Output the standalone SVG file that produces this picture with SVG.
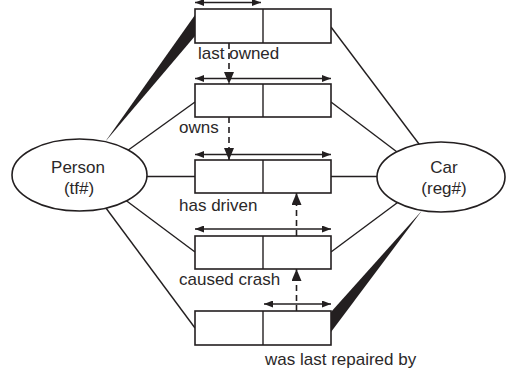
<svg xmlns="http://www.w3.org/2000/svg" width="507" height="372" viewBox="0 0 507 372">
  <style>
    .box { fill: #fff; stroke: #231f20; stroke-width: 1.6; }
    .div { stroke: #231f20; stroke-width: 1.4; }
    .ent { fill: #fff; stroke: #231f20; stroke-width: 1.6; }
    .link { stroke: #231f20; stroke-width: 1.4; fill: none; }
    .wedge { fill: #231f20; stroke: none; }
    .span { stroke: #231f20; stroke-width: 1.3; fill: none; marker-start: url(#tip2); marker-end: url(#tip2); }
    .sub { stroke: #231f20; stroke-width: 1.6; fill: none; stroke-dasharray: 6 4; marker-end: url(#tip); }
    text { font-family: "Liberation Sans", Arial, sans-serif; font-size: 17px; fill: #2b2829; }
    .mid { text-anchor: middle; }
  </style>
  <defs>
    <marker id="tip" markerUnits="userSpaceOnUse" markerWidth="12" markerHeight="10" refX="12" refY="5" orient="auto">
      <path d="M0,0 L12,5 L0,10 z" fill="#231f20" stroke="none"/>
    </marker>
    <marker id="tip2" markerUnits="userSpaceOnUse" markerWidth="9" markerHeight="7" refX="9" refY="3.5" orient="auto-start-reverse">
      <path d="M0,0 L9,3.5 L0,7 z" fill="#231f20" stroke="none"/>
    </marker>
  </defs>

  <!-- connectors: role links, uniqueness bars and subset constraints -->
  <g id="connectors">
    <polygon class="wedge" points="105,142 195,15 195,36"/>
    <line class="link" x1="120" y1="156" x2="195" y2="102"/>
    <line class="link" x1="140" y1="176.5" x2="195" y2="176.5"/>
    <line class="link" x1="120" y1="196" x2="195" y2="252"/>
    <line class="link" x1="100" y1="200" x2="195" y2="328"/>

    <line class="link" x1="331" y1="27" x2="425" y2="152"/>
    <line class="link" x1="331" y1="102" x2="405" y2="158"/>
    <line class="link" x1="331" y1="176.5" x2="385" y2="176.5"/>
    <line class="link" x1="331" y1="252" x2="405" y2="197"/>
    <polygon class="wedge" points="422,210.4 331,312 331,332"/>

    <line class="span" x1="195" y1="2.5" x2="261" y2="2.5"/>
    <line class="span" x1="195" y1="78.5" x2="331" y2="78.5"/>
    <line class="span" x1="195" y1="154.5" x2="331" y2="154.5"/>
    <line class="span" x1="195" y1="229" x2="331" y2="229"/>
    <line class="span" x1="264" y1="304" x2="331" y2="304"/>

    <line class="sub" x1="229" y1="43" x2="229" y2="84"/>
    <line class="sub" x1="229" y1="117" x2="229" y2="160"/>
    <line class="sub" x1="296.5" y1="236" x2="296.5" y2="193"/>
    <line class="sub" x1="296.5" y1="311" x2="296.5" y2="269"/>
  </g>

  <g id="person">
    <ellipse class="ent" cx="79.5" cy="175" rx="67.5" ry="36"/>
    <text class="mid" x="78" y="173">Person</text>
    <text class="mid" x="79" y="194">(tf#)</text>
  </g>

  <g id="car">
    <ellipse class="ent" cx="441" cy="177" rx="64" ry="35"/>
    <text class="mid" x="444" y="173">Car</text>
    <text class="mid" x="444" y="194">(reg#)</text>
  </g>

  <g id="last-owned">
    <rect class="box" x="195" y="9" width="136" height="34"/>
    <line class="div" x1="263" y1="9" x2="263" y2="43"/>
    <text x="198" y="59">last owned</text>
  </g>

  <g id="owns">
    <rect class="box" x="195" y="84" width="136" height="33"/>
    <line class="div" x1="263" y1="84" x2="263" y2="117"/>
    <text x="179" y="133">owns</text>
  </g>

  <g id="has-driven">
    <rect class="box" x="195" y="160" width="136" height="33"/>
    <line class="div" x1="263" y1="160" x2="263" y2="193"/>
    <text x="179" y="211">has driven</text>
  </g>

  <g id="caused-crash">
    <rect class="box" x="195" y="236" width="136" height="33"/>
    <line class="div" x1="263" y1="236" x2="263" y2="269"/>
    <text x="179" y="285">caused crash</text>
  </g>

  <g id="was-last-repaired-by">
    <rect class="box" x="195" y="311" width="136" height="34"/>
    <line class="div" x1="263" y1="311" x2="263" y2="345"/>
    <text x="265" y="365">was last repaired by</text>
  </g>
</svg>
